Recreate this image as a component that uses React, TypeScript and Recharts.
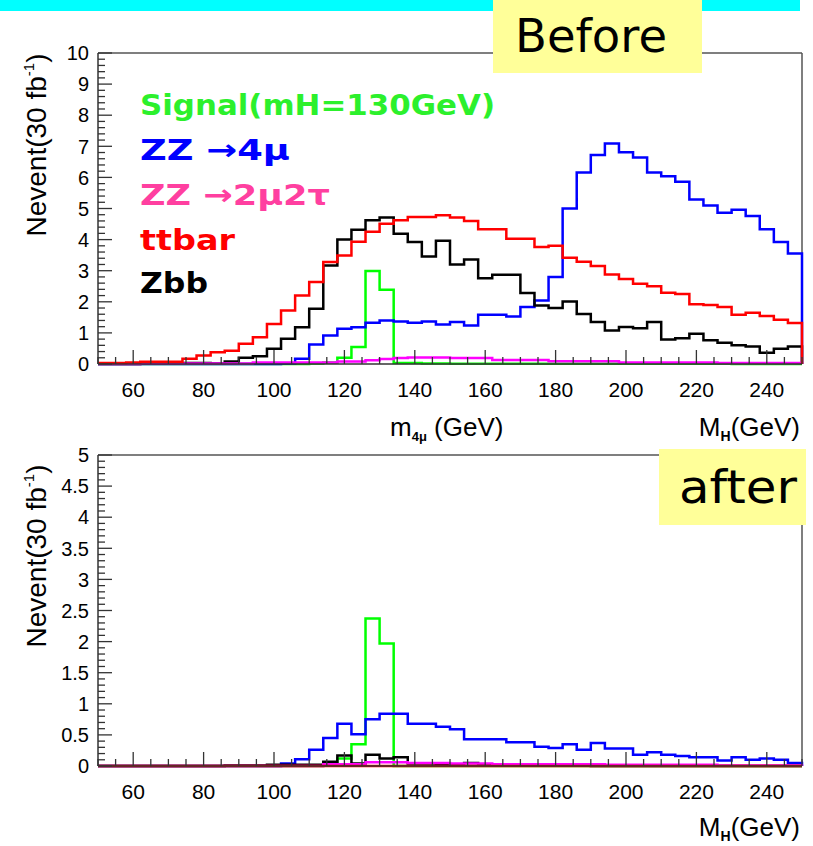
import { LineChart, Line, XAxis, YAxis, ReferenceLine } from 'recharts';

// histogram binning: 50 bins of 4 GeV from 50 to 250
const BIN_LOW = 50;
const BIN_WIDTH = 4;

// ---- before cuts (Nevent / 30 fb-1) ----
const signalBefore = [
  0, 0, 0, 0, 0, 0, 0, 0, 0, 0,
  0, 0, 0, 0, 0, 0.02, 0.05, 0.2, 0.55, 2.99,
  2.39, 0.03, 0.03, 0.02, 0.02, 0.01, 0.01, 0.01, 0.01, 0.01,
  0.01, 0.01, 0.01, 0.01, 0.01, 0.01, 0.01, 0.01, 0.01, 0.01,
  0.01, 0.01, 0.01, 0.01, 0.01, 0, 0, 0, 0, 0,
];
const zz4muBefore = [
  0, 0, 0, 0, 0, 0, 0, 0, 0, 0,
  0, 0, 0, 0.02, 0.17, 0.63, 0.92, 1.13, 1.18, 1.33,
  1.4, 1.37, 1.33, 1.37, 1.27, 1.35, 1.24, 1.58, 1.58, 1.53,
  1.83, 2.04, 2.8, 5.0, 6.16, 6.72, 7.09, 6.81, 6.64, 6.16,
  6.04, 5.86, 5.29, 5.1, 4.86, 4.96, 4.76, 4.33, 3.92, 3.55,
];
const zz2mu2tauBefore = [
  0, 0, 0, 0.02, 0.02, 0.02, 0.02, 0.02, 0.02, 0.02,
  0.02, 0.05, 0.05, 0.05, 0.05, 0.05, 0.05, 0.08, 0.08, 0.12,
  0.16, 0.19, 0.21, 0.21, 0.21, 0.19, 0.19, 0.19, 0.13, 0.13,
  0.13, 0.13, 0.09, 0.09, 0.09, 0.09, 0.09, 0.05, 0.05, 0.05,
  0.05, 0.05, 0.05, 0.05, 0.03, 0.03, 0.03, 0.03, 0.03, 0.03,
];
const ttbarBefore = [
  0.03, 0.03, 0.05, 0.07, 0.07, 0.07, 0.17, 0.27, 0.38, 0.43,
  0.65, 0.86, 1.29, 1.72, 2.2, 2.64, 3.28, 3.49, 3.93, 4.25,
  4.51, 4.62, 4.73, 4.73, 4.78, 4.71, 4.6, 4.33, 4.33, 4.03,
  4.03, 3.76, 3.8, 3.42, 3.29, 3.15, 2.88, 2.73, 2.58, 2.5,
  2.29, 2.25, 1.92, 1.9, 1.83, 1.58, 1.65, 1.54, 1.42, 1.32,
];
const zbbBefore = [
  0, 0, 0, 0.02, 0.02, 0.02, 0.03, 0.03, 0.02, 0.08,
  0.2, 0.25, 0.49, 0.81, 1.18, 1.78, 3.17, 4.0, 4.32, 4.62,
  4.71, 4.19, 3.92, 3.46, 3.96, 3.2, 3.36, 2.76, 2.87, 2.87,
  2.28, 1.88, 1.8, 2.01, 1.61, 1.35, 1.08, 1.19, 1.15, 1.35,
  0.79, 0.83, 0.97, 0.76, 0.68, 0.6, 0.56, 0.36, 0.49, 0.56,
];

// ---- after cuts ----
const signalAfter = [
  0, 0, 0, 0, 0, 0, 0, 0, 0, 0,
  0, 0, 0, 0, 0, 0, 0.02, 0.12, 0.35, 2.37,
  1.97, 0, 0, 0, 0, 0, 0, 0, 0, 0,
  0, 0, 0, 0, 0, 0, 0, 0, 0, 0,
  0, 0, 0, 0, 0, 0, 0, 0, 0, 0,
];
const zz4muAfter = [
  0, 0, 0, 0, 0, 0, 0, 0, 0, 0,
  0, 0, 0, 0.04, 0.11, 0.26, 0.45, 0.68, 0.51, 0.75,
  0.84, 0.84, 0.68, 0.68, 0.63, 0.59, 0.43, 0.43, 0.43, 0.38,
  0.38, 0.31, 0.29, 0.35, 0.26, 0.37, 0.28, 0.28, 0.18, 0.22,
  0.18, 0.16, 0.14, 0.14, 0.09, 0.14, 0.1, 0.12, 0.1, 0.05,
];
const zz2mu2tauAfter = [
  0, 0, 0, 0, 0, 0, 0, 0, 0, 0,
  0, 0, 0, 0, 0, 0, 0.03, 0.03, 0.03, 0.06,
  0.06, 0.06, 0.05, 0.05, 0.05, 0.04, 0.04, 0.04, 0.03, 0.03,
  0.03, 0.03, 0.03, 0.03, 0.03, 0.03, 0.02, 0.02, 0.02, 0.02,
  0.02, 0.02, 0.02, 0.02, 0.01, 0.01, 0.01, 0.01, 0.01, 0.01,
];
const ttbarAfter = [
  0, 0, 0, 0, 0, 0, 0, 0, 0, 0,
  0, 0, 0, 0, 0, 0, 0, 0, 0, 0,
  0, 0, 0, 0, 0, 0, 0, 0, 0, 0,
  0, 0, 0, 0, 0, 0, 0, 0, 0, 0,
  0, 0, 0, 0, 0, 0, 0, 0, 0, 0,
];
const zbbAfter = [
  0, 0, 0, 0, 0, 0, 0, 0, 0, 0.01,
  0.01, 0.01, 0.02, 0.02, 0.02, 0.02, 0.07, 0.17, 0.04, 0.18,
  0.12, 0.14, 0.04, 0.04, 0.03, 0.02, 0.05, 0.02, 0.01, 0.01,
  0.02, 0.01, 0.01, 0.02, 0.01, 0, 0, 0, 0, 0,
  0, 0, 0, 0, 0, 0, 0, 0, 0, 0,
];

// axis labels
const X_LABELS = [60, 80, 100, 120, 140, 160, 180, 200, 220, 240];
const X_MINOR_STEP = 5;
const TOP_Y_LABELS = [0, 1, 2, 3, 4, 5, 6, 7, 8, 9, 10];
const TOP_Y_MINOR_STEP = 0.2;
const BOTTOM_Y_LABELS = [0, 0.5, 1, 1.5, 2, 2.5, 3, 3.5, 4, 4.5, 5];
const BOTTOM_Y_MINOR_STEP = 0.1;

const SERIES = [
  { key: 'signal', color: '#00ff00' },
  { key: 'zz4mu', color: '#0000ff' },
  { key: 'zbb', color: '#000000' },
  { key: 'zz2mu2tau', color: '#ff00ff' },
  { key: 'ttbar', color: '#ff0000' },
];

function buildRows(cols: Record<string, number[]>) {
  const n = cols.signal.length;
  const rows: Record<string, number>[] = [];
  for (let i = 0; i < n; i++) {
    const row: Record<string, number> = { x: BIN_LOW + i * BIN_WIDTH };
    for (const k of Object.keys(cols)) row[k] = cols[k][i];
    rows.push(row);
  }
  // close the histogram at the upper edge
  const last: Record<string, number> = { x: BIN_LOW + n * BIN_WIDTH };
  for (const k of Object.keys(cols)) last[k] = 0;
  rows.push(last);
  return rows;
}

const beforeRows = buildRows({
  signal: signalBefore,
  zz4mu: zz4muBefore,
  zz2mu2tau: zz2mu2tauBefore,
  ttbar: ttbarBefore,
  zbb: zbbBefore,
});
const afterRows = buildRows({
  signal: signalAfter,
  zz4mu: zz4muAfter,
  zz2mu2tau: zz2mu2tauAfter,
  ttbar: ttbarAfter,
  zbb: zbbAfter,
});

function steps(lo: number, hi: number, step: number) {
  const out: number[] = [];
  const n = Math.round((hi - lo) / step);
  for (let k = 0; k <= n; k++) out.push(+(lo + k * step).toFixed(4));
  return out;
}

const xTicks = steps(50, 250, X_MINOR_STEP);
const AXIS = '#333';
const LABEL_FONT = '"Liberation Sans", Arial, sans-serif';

const XTick = (props: any) => {
  const { x, y, payload } = props;
  const major = X_LABELS.includes(payload.value);
  return (
    <g>
      <line x1={x} x2={x} y1={y} y2={y - (major ? 14 : 7)} stroke={AXIS} strokeWidth={1.3} />
      {major && (
        <text x={x} y={y + 33} textAnchor="middle" fontSize={21} fill="#000" fontFamily={LABEL_FONT}>
          {payload.value}
        </text>
      )}
    </g>
  );
};

const makeYTick = (labels: number[]) => (props: any) => {
  const { x, y, payload } = props;
  const major = labels.includes(payload.value);
  return (
    <g>
      <line x1={x} x2={x + (major ? 14 : 7)} y1={y} y2={y} stroke={AXIS} strokeWidth={1.3} />
      {major && (
        <text x={x - 9} y={y} dy="0.36em" textAnchor="end" fontSize={20} fill="#000" fontFamily={LABEL_FONT}>
          {payload.value}
        </text>
      )}
    </g>
  );
};

function Panel({ rows, yMax, yLabels, minorStep, height, top, bottom }: any) {
  return (
    <LineChart width={813} height={height} data={rows} margin={{ top, right: 11, bottom, left: 48 }}>
      <XAxis
        type="number"
        dataKey="x"
        domain={[50, 250]}
        ticks={xTicks}
        interval={0}
        tickLine={false}
        tickSize={0}
        tickMargin={0}
        tick={XTick}
        height={40}
        axisLine={{ stroke: AXIS, strokeWidth: 1.5 }}
      />
      <YAxis
        type="number"
        domain={[0, yMax]}
        ticks={steps(0, yMax, minorStep)}
        interval={0}
        tickLine={false}
        tickSize={0}
        tickMargin={0}
        tick={makeYTick(yLabels)}
        width={50}
        axisLine={{ stroke: AXIS, strokeWidth: 1.5 }}
      />
      <ReferenceLine y={yMax} stroke="#555" strokeWidth={1.5} />
      <ReferenceLine x={250} stroke="#555" strokeWidth={1.5} />
      {SERIES.map((s) => (
        <Line
          key={s.key}
          type="stepAfter"
          dataKey={s.key}
          stroke={s.color}
          strokeWidth={2.5}
          dot={false}
          isAnimationActive={false}
        />
      ))}
    </LineChart>
  );
}

function YTitle({ cx, cy }: { cx: number; cy: number }) {
  return (
    <text transform={`translate(${cx},${cy}) rotate(-90)`} textAnchor="middle" fontSize={28} fill="#000" fontFamily={LABEL_FONT}>
      Nevent(30 fb
      <tspan fontSize={15} dy={-12}>-1</tspan>
      <tspan dy={12}>)</tspan>
    </text>
  );
}

function MHTitle({ y }: { y: number }) {
  return (
    <text x={800} y={y} textAnchor="end" fontSize={26} fill="#000" fontFamily={LABEL_FONT}>
      M<tspan fontSize={14} dy={5} fontWeight="bold">H</tspan>
      <tspan dy={-5}>(GeV)</tspan>
    </text>
  );
}

const LEGEND_FONT = '"DejaVu Sans", sans-serif';

export default function App() {
  return (
    <div style={{ position: 'absolute', left: 0, top: 0, width: 813, height: 846, background: '#fff' }}>
      <div style={{ position: 'absolute', left: 0, top: 0 }}>
        <Panel rows={beforeRows} yMax={10} yLabels={TOP_Y_LABELS} minorStep={TOP_Y_MINOR_STEP} height={440} top={53} bottom={36} />
      </div>
      <div style={{ position: 'absolute', left: 0, top: 440 }}>
        <Panel rows={afterRows} yMax={5} yLabels={BOTTOM_Y_LABELS} minorStep={BOTTOM_Y_MINOR_STEP} height={406} top={15} bottom={40} />
      </div>
      <svg width={813} height={846} style={{ position: 'absolute', left: 0, top: 0, pointerEvents: 'none' }}>
        <rect x={0} y={0} width={800} height={11} fill="#00ffff" />
        <rect x={493} y={0} width={209} height={73} fill="#ffff99" />
        <text x={515} y={52} fontSize={46} textLength={152} lengthAdjust="spacingAndGlyphs" fontFamily={LEGEND_FONT} fill="#000">
          Before
        </text>
        <rect x={659} y={449} width={147} height={76} fill="#ffff99" />
        <text x={679} y={503} fontSize={46} textLength={118} lengthAdjust="spacingAndGlyphs" fontFamily={LEGEND_FONT} fill="#000">
          after
        </text>

        <g fontFamily={LEGEND_FONT} fontWeight="bold" fontSize={29}>
          <text x={140} y={115} fill="#2cf02c" textLength={355} lengthAdjust="spacingAndGlyphs">Signal(mH=130GeV)</text>
          <text x={140} y={160} fill="#0000ff" textLength={150} lengthAdjust="spacingAndGlyphs">ZZ →4μ</text>
          <text x={140} y={205} fill="#ff3fa0" textLength={190} lengthAdjust="spacingAndGlyphs">ZZ →2μ2τ</text>
          <text x={140} y={250} fill="#ff0000" textLength={95} lengthAdjust="spacingAndGlyphs">ttbar</text>
          <text x={140} y={293} fill="#000000" textLength={68} lengthAdjust="spacingAndGlyphs">Zbb</text>
        </g>

        <YTitle cx={46} cy={145} />
        <YTitle cx={46} cy={556} />

        <text x={390} y={436} fontSize={26} fill="#000" fontFamily={LABEL_FONT}>
          m<tspan fontSize={13} dy={5} fontWeight="bold">4μ</tspan>
          <tspan dy={-5}> (GeV)</tspan>
        </text>
        <MHTitle y={436} />
        <MHTitle y={836} />
      </svg>
    </div>
  );
}
